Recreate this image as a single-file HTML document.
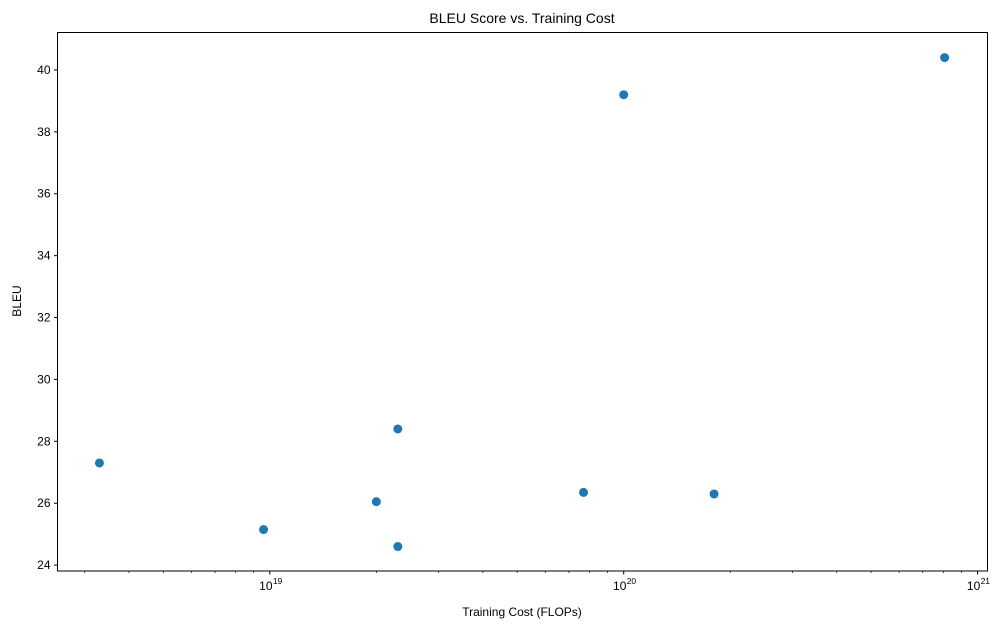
<!DOCTYPE html>
<html><head><meta charset="utf-8"><style>
body{margin:0;background:#fff}
svg text{font-family:"Liberation Sans","DejaVu Sans",sans-serif;fill:#000}
</style></head><body>
<svg id="chart" width="1004" height="629" xmlns="http://www.w3.org/2000/svg">
<text x="522" y="23" font-size="14" text-anchor="middle">BLEU Score vs. Training Cost</text>
<text x="522" y="616" font-size="12" text-anchor="middle">Training Cost (FLOPs)</text>
<text x="21" y="301" font-size="12" text-anchor="middle" transform="rotate(-90 21 301)">BLEU</text>
<g id="axes"></g>
<g id="points"></g>
<rect x="57.5" y="32.5" width="930" height="538.5" fill="none" stroke="#000" stroke-width="1"/>
</svg>
<script>
const flops = [3.3e18, 9.6e18, 2.0e19, 2.3e19, 2.3e19, 7.7e19, 1.0e20, 1.8e20, 8.07e20];
const bleu = [27.3, 25.15, 26.05, 28.4, 24.6, 26.35, 39.2, 26.3, 40.4];
const yTicks = [24, 26, 28, 30, 32, 34, 36, 38, 40];
const xExponents = [19, 20, 21];

const L=57.5,R=987.5,T=32.5,B=571;
const xMin=18.4,xMax=21.028,yMin=23.81,yMax=41.21;
const NS="http://www.w3.org/2000/svg";
function xs(v){return L+(Math.log10(v)-xMin)/(xMax-xMin)*(R-L);}
function ys(v){return B-(v-yMin)/(yMax-yMin)*(B-T);}
function mk(tag,attrs,parent){const e=document.createElementNS(NS,tag);for(const k in attrs)e.setAttribute(k,attrs[k]);parent.appendChild(e);return e;}
const axes=document.getElementById('axes');
yTicks.forEach(t=>{
  const y=ys(t);
  const l=mk('line',{x1:L-3.5,x2:L,y1:y,y2:y,stroke:'#000'},axes);
  
  
  const tx=mk('text',{x:L-7,y:y+4,'font-size':12,'text-anchor':'end'},axes);
  tx.textContent=t;
  
  
});
for(let e=18;e<=21;e++){
  for(let m=1;m<10;m++){
    const v=m*Math.pow(10,e);
    const lv=Math.log10(v);
    if(lv<xMin||lv>xMax)continue;
    const x=xs(v);
    const major=(m===1);
    const l=mk('line',{x1:x,x2:x,y1:B,y2:B+(major?3.5:2),stroke:'#000','stroke-width':major?1:0.7},axes);
    
    
  }
}
xExponents.forEach(e=>{
  const x=xs(Math.pow(10,e));
  const tx=mk('text',{x:x-4,y:B+19,'font-size':12,'text-anchor':'middle'},axes);
  tx.textContent='10';
  
  
  const sp=mk('text',{x:x+3,y:B+13,'font-size':8.5},axes);
  sp.textContent=e;
  
  
});
const pts=document.getElementById('points');
flops.forEach((f,i)=>{
  const c=mk('circle',{cx:xs(f),cy:ys(bleu[i]),r:4.5,fill:'#1f77b4'},pts);
  
  
});
</script>
</body></html>
